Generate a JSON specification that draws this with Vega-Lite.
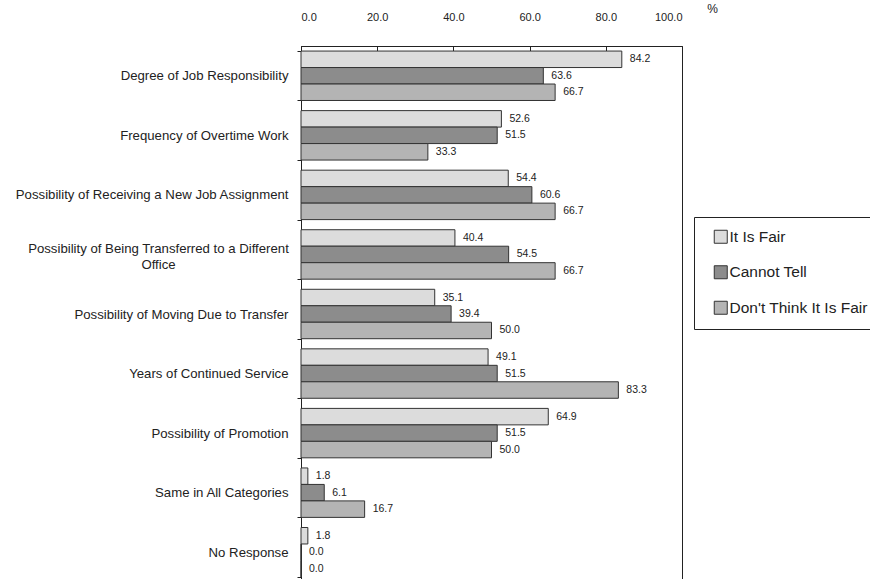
{
  "$schema": "https://vega.github.io/schema/vega-lite/v6.json",
  "autosize": {"type": "none"},
  "padding": {"left": 301, "top": 46, "right": 188, "bottom": 0},
  "width": 381,
  "height": 536,
  "background": "white",
  "config": {
    "font": "Liberation Sans",
    "view": {"stroke": "#222", "strokeWidth": 1},
    "axis": {"labelColor": "#222", "titleColor": "#222", "domainColor": "#222", "tickColor": "#222"}
  },
  "data": {
    "values": [
      {"category": "Degree of Job Responsibility", "series": "It Is Fair", "value": 84.2},
      {"category": "Degree of Job Responsibility", "series": "Cannot Tell", "value": 63.6},
      {"category": "Degree of Job Responsibility", "series": "Don't Think It Is Fair", "value": 66.7},
      {"category": "Frequency of Overtime Work", "series": "It Is Fair", "value": 52.6},
      {"category": "Frequency of Overtime Work", "series": "Cannot Tell", "value": 51.5},
      {"category": "Frequency of Overtime Work", "series": "Don't Think It Is Fair", "value": 33.3},
      {"category": "Possibility of Receiving a New Job Assignment", "series": "It Is Fair", "value": 54.4},
      {"category": "Possibility of Receiving a New Job Assignment", "series": "Cannot Tell", "value": 60.6},
      {"category": "Possibility of Receiving a New Job Assignment", "series": "Don't Think It Is Fair", "value": 66.7},
      {"category": "Possibility of Being Transferred to a Different Office", "series": "It Is Fair", "value": 40.4},
      {"category": "Possibility of Being Transferred to a Different Office", "series": "Cannot Tell", "value": 54.5},
      {"category": "Possibility of Being Transferred to a Different Office", "series": "Don't Think It Is Fair", "value": 66.7},
      {"category": "Possibility of Moving Due to Transfer", "series": "It Is Fair", "value": 35.1},
      {"category": "Possibility of Moving Due to Transfer", "series": "Cannot Tell", "value": 39.4},
      {"category": "Possibility of Moving Due to Transfer", "series": "Don't Think It Is Fair", "value": 50.0},
      {"category": "Years of Continued Service", "series": "It Is Fair", "value": 49.1},
      {"category": "Years of Continued Service", "series": "Cannot Tell", "value": 51.5},
      {"category": "Years of Continued Service", "series": "Don't Think It Is Fair", "value": 83.3},
      {"category": "Possibility of Promotion", "series": "It Is Fair", "value": 64.9},
      {"category": "Possibility of Promotion", "series": "Cannot Tell", "value": 51.5},
      {"category": "Possibility of Promotion", "series": "Don't Think It Is Fair", "value": 50.0},
      {"category": "Same in All Categories", "series": "It Is Fair", "value": 1.8},
      {"category": "Same in All Categories", "series": "Cannot Tell", "value": 6.1},
      {"category": "Same in All Categories", "series": "Don't Think It Is Fair", "value": 16.7},
      {"category": "No Response", "series": "It Is Fair", "value": 1.8},
      {"category": "No Response", "series": "Cannot Tell", "value": 0.0},
      {"category": "No Response", "series": "Don't Think It Is Fair", "value": 0.0}
    ]
  },
  "encoding": {
    "y": {
      "field": "category",
      "type": "nominal",
      "sort": null,
      "scale": {"paddingInner": 0.17, "paddingOuter": 0.085},
      "axis": {
        "title": null,
        "tickBand": "extent",
        "tickSize": 4,
        "labelFontSize": 13.2,
        "labelLimit": 320,
        "labelLineHeight": 16.5,
        "labelAlign": {"condition": {"test": "datum.value == 'Possibility of Being Transferred to a Different Office'", "value": "center"}, "value": "right"},
        "labelPadding": {"condition": {"test": "datum.value == 'Possibility of Being Transferred to a Different Office'", "value": 139}, "value": 9},
        "labelOffset": {"condition": {"test": "datum.value == 'Possibility of Being Transferred to a Different Office'", "value": -6}, "value": 0},
        "labelExpr": "datum.value == 'Possibility of Being Transferred to a Different Office' ? ['Possibility of Being Transferred to a Different', 'Office'] : datum.value"
      }
    },
    "yOffset": {
      "field": "series",
      "type": "nominal",
      "sort": ["It Is Fair", "Cannot Tell", "Don't Think It Is Fair"],
      "scale": {"paddingInner": 0, "paddingOuter": 0}
    },
    "x": {
      "field": "value",
      "type": "quantitative",
      "scale": {"domain": [0, 100], "nice": false},
      "axis": {
        "orient": "top",
        "values": [0, 20, 40, 60, 80, 100],
        "format": ".1f",
        "grid": false,
        "tickSize": -5,
        "labelPadding": 29,
        "labelFontSize": 11,
        "title": "%",
        "titleFontSize": 12,
        "titleFontWeight": "normal",
        "titleX": 411,
        "titleY": -31,
        "titleAlign": "center",
        "titleAngle": 0
      }
    }
  },
  "layer": [
    {
      "mark": {"type": "bar", "stroke": "#333", "strokeWidth": 1},
      "encoding": {
        "color": {
          "field": "series",
          "type": "nominal",
          "sort": ["It Is Fair", "Cannot Tell", "Don't Think It Is Fair"],
          "scale": {
            "domain": ["It Is Fair", "Cannot Tell", "Don't Think It Is Fair"],
            "range": ["#dcdcdc", "#8c8c8c", "#b4b4b4"]
          },
          "legend": {
            "title": null,
            "orient": "none",
            "legendX": 393,
            "legendY": 171,
            "strokeColor": "#222",
            "fillColor": "white",
            "padding": 12,
            "symbolOffset": 7,
            "symbolType": "square",
            "symbolSize": 169,
            "symbolStrokeColor": "#333",
            "symbolStrokeWidth": 1,
            "labelFontSize": 15.5,
            "labelColor": "#222",
            "labelOffset": 1,
            "rowPadding": 17.5,
            "labelLimit": 250
          }
        }
      }
    },
    {
      "mark": {"type": "text", "align": "left", "baseline": "middle", "dx": 8, "fontSize": 10.5, "color": "#222"},
      "encoding": {
        "text": {"field": "value", "type": "quantitative", "format": ".1f"}
      }
    }
  ]
}
